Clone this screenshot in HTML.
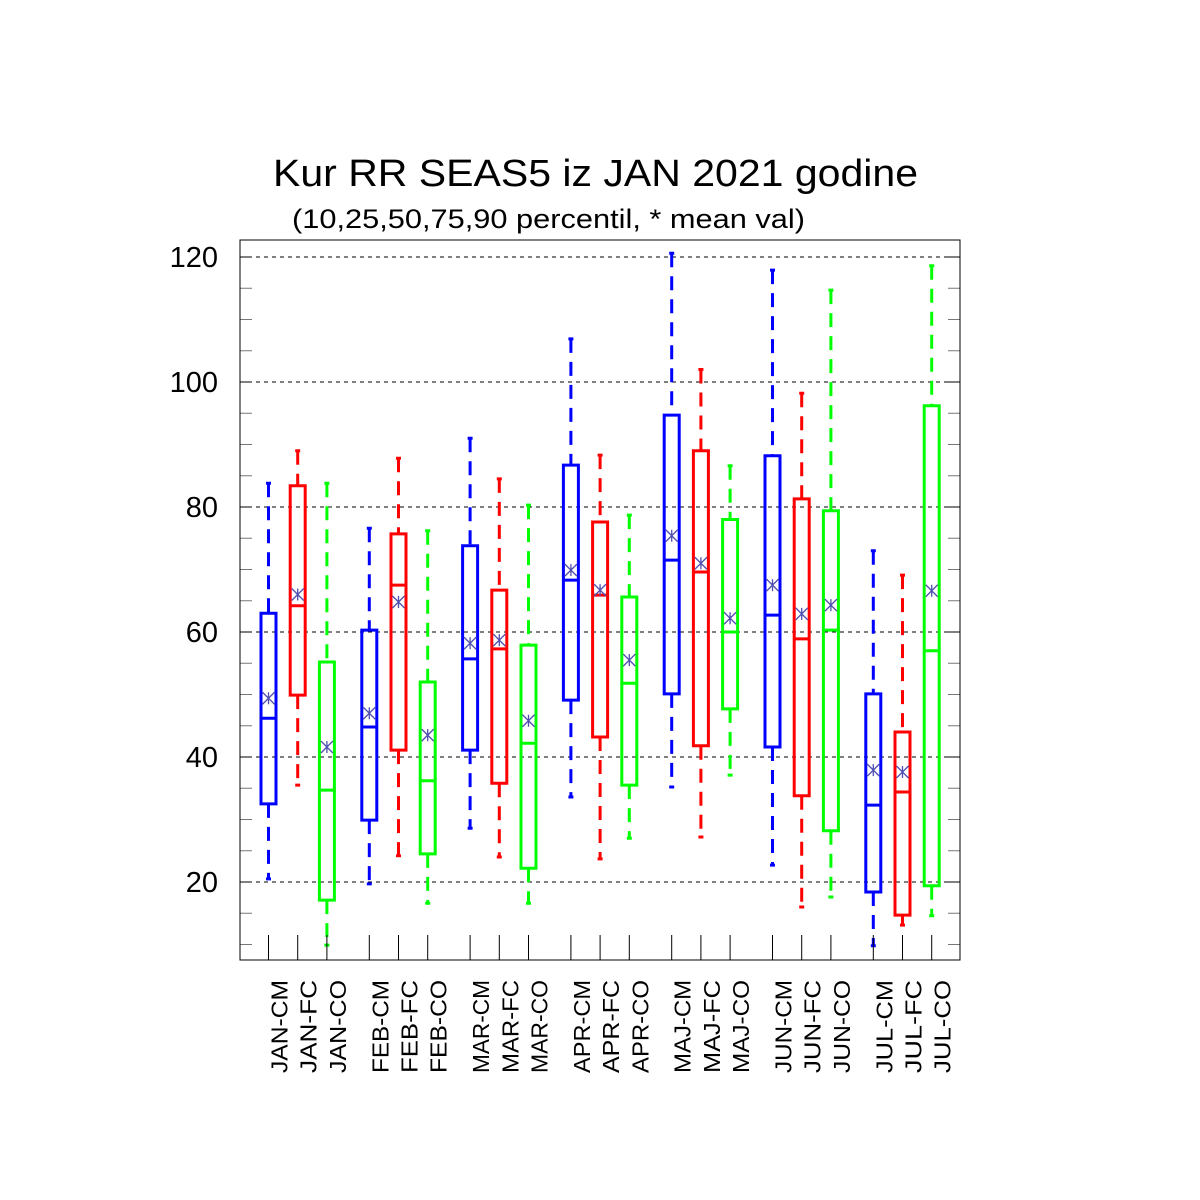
<!DOCTYPE html>
<html><head><meta charset="utf-8"><style>
html,body{margin:0;padding:0;background:#fff;}
svg{display:block;font-family:"Liberation Sans",sans-serif;}
</style></head><body>
<svg id="chart" width="1200" height="1200" viewBox="0 0 1200 1200">
<rect width="1200" height="1200" fill="#fff"/>
<text x="273" y="186" font-size="38" textLength="645" lengthAdjust="spacingAndGlyphs">Kur RR SEAS5 iz JAN 2021 godine</text>
<text x="292" y="228" font-size="27" textLength="513" lengthAdjust="spacingAndGlyphs">(10,25,50,75,90 percentil, * mean val)</text>
<g id="grid"></g><g id="marks"></g><g id="axes"></g>
</svg>
<script>
const categories=["JAN-CM","JAN-FC","JAN-CO","FEB-CM","FEB-FC","FEB-CO","MAR-CM","MAR-FC","MAR-CO","APR-CM","APR-FC","APR-CO","MAJ-CM","MAJ-FC","MAJ-CO","JUN-CM","JUN-FC","JUN-CO","JUL-CM","JUL-FC","JUL-CO"];
const p10=[20.5,35.5,9.9,19.7,24.2,16.6,28.6,24,16.6,33.6,23.7,27,35.2,27.2,37.1,22.7,16,17.6,9.8,13.1,14.6];
const p25=[32.5,49.9,17.1,29.9,41.1,24.5,41.1,35.8,22.2,49.1,43.2,35.5,50.1,41.8,47.7,41.6,33.8,28.2,18.4,14.7,19.4];
const p50=[46.2,64.2,34.7,44.8,67.5,36.2,55.7,57.3,42.2,68.3,65.9,51.8,71.5,69.6,60,62.7,58.9,60.3,32.3,34.4,57];
const p75=[63,83.4,55.2,60.3,75.7,52,73.8,66.7,57.9,86.7,77.6,65.6,94.7,89,78,88.2,81.3,79.4,50.1,44,96.2];
const p90=[83.8,89,83.8,76.6,87.8,76.2,91,84.5,80.3,106.9,88.3,78.7,120.6,102,86.6,117.9,98.2,114.7,73,69.1,118.6];
const means=[49.4,66,41.6,47,64.8,43.5,58.2,58.7,45.8,69.9,66.7,55.5,75.4,71,62.2,67.5,62.9,64.3,37.9,37.6,66.6];
const yTicks=[20,40,60,80,100,120];
const colors=["#0000ff","#ff0000","#00ff00"];
const NS="http://www.w3.org/2000/svg";
const L=240,R=960,T=240,B=960;
const Y=v=>1007-v*6.25;
const X=i=>{const g=Math.floor(i/3),k=i%3;return 268.5+g*100.8+k*29.2;};
function mk(tag,attrs,parent){const e=document.createElementNS(NS,tag);for(const k in attrs)e.setAttribute(k,attrs[k]);parent.appendChild(e);return e;}
const grid=document.getElementById('grid'),marks=document.getElementById('marks'),axes=document.getElementById('axes');
yTicks.forEach(t=>{
 const g=mk('line',{x1:L,x2:R,y1:Y(t),y2:Y(t),stroke:'#000','stroke-width':1,'stroke-dasharray':'4,4'},grid);
 
 
 const tx=mk('text',{x:218,y:Y(t)+10,'font-size':29,'text-anchor':'end'},axes);
 tx.textContent=t;
 
 
});
for(let v=10;v<=120;v+=5){
 const maj=v%20===0;
 const c=maj?'#000':'#777';
 mk('line',{x1:L,x2:L+12,y1:Y(v),y2:Y(v),stroke:c,'stroke-width':1},axes);
 mk('line',{x1:R-12,x2:R,y1:Y(v),y2:Y(v),stroke:c,'stroke-width':1},axes);
}
categories.forEach((c,i)=>{
 const x=X(i),col=colors[i%3],w=7.5;
 const g=mk('g',{},marks);
 
 
 mk('line',{x1:x,x2:x,y1:Y(p90[i]),y2:Y(p75[i]),stroke:col,'stroke-width':3,'stroke-dasharray':'14,9'},g);
 mk('line',{x1:x,x2:x,y1:Y(p25[i]),y2:Y(p10[i]),stroke:col,'stroke-width':3,'stroke-dasharray':'14,9'},g);
 mk('line',{x1:x-2.5,x2:x+2.5,y1:Y(p90[i]),y2:Y(p90[i]),stroke:col,'stroke-width':3},g);
 mk('line',{x1:x-2.5,x2:x+2.5,y1:Y(p10[i]),y2:Y(p10[i]),stroke:col,'stroke-width':3},g);
 mk('rect',{x:x-w,y:Y(p75[i]),width:2*w,height:Y(p25[i])-Y(p75[i]),fill:'none',stroke:col,'stroke-width':3},g);
 mk('line',{x1:x-w,x2:x+w,y1:Y(p50[i]),y2:Y(p50[i]),stroke:col,'stroke-width':3},g);
 const my=Y(means[i]),s=6;
 mk('path',{d:`M${x-s},${my-s}L${x+s},${my+s}M${x-s},${my+s}L${x+s},${my-s}M${x},${my-s}L${x},${my+s}`,stroke:'#5050b0','stroke-width':1.3,fill:'none'},g);
 mk('line',{x1:x,x2:x,y1:935,y2:B,stroke:'#000','stroke-width':1},axes);
 const lb=mk('text',{transform:`translate(${x+19},980) rotate(-90)`,'font-size':23,'text-anchor':'end',textLength:93,lengthAdjust:'spacingAndGlyphs'},axes);
 lb.textContent=c;
 
 
});
const fr=mk('rect',{x:L,y:T,width:R-L,height:B-T,fill:'none',stroke:'#000','stroke-width':1},axes);


</script>
</body></html>
